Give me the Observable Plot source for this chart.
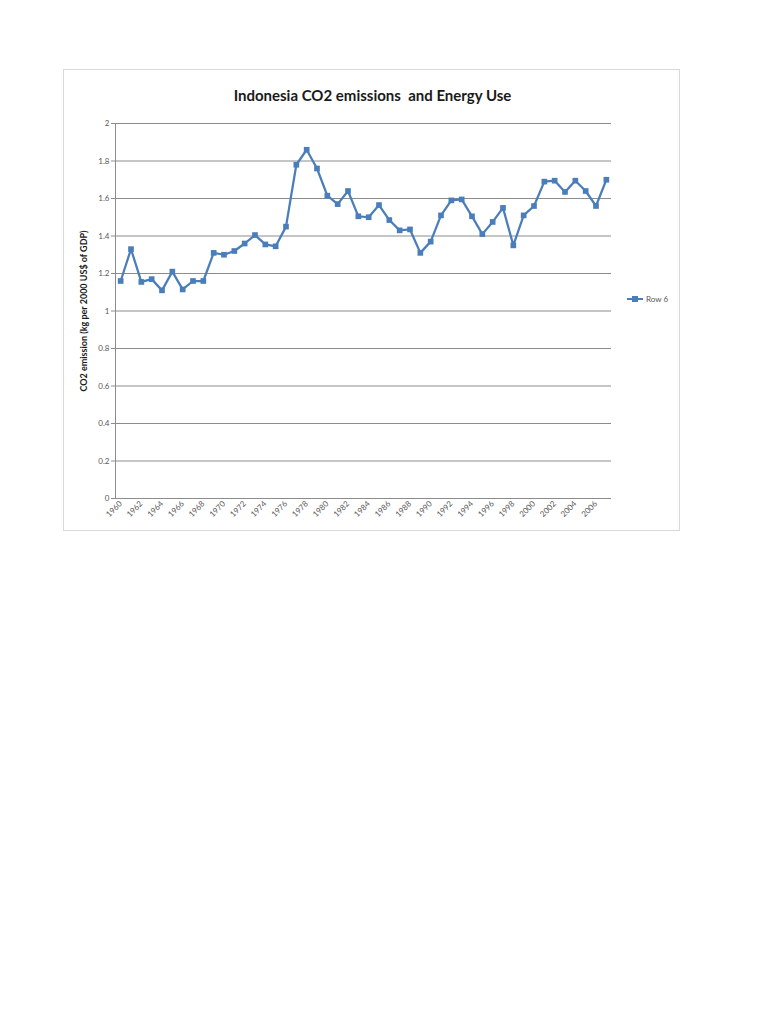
<!DOCTYPE html>
<html>
<head>
<meta charset="utf-8">
<script src="https://cdn.jsdelivr.net/npm/d3@7"></script>
<script src="https://cdn.jsdelivr.net/npm/@observablehq/plot@0.6"></script>
<style>
  body { margin: 0; background: #fff; font-family: Lato, "Open Sans", sans-serif; }
  #frame { position: absolute; left: 63px; top: 69px; width: 615px; height: 460px; border: 1px solid #d9d9d9; background: #fff; }
  #title { position: absolute; left: 0; width: 617px; top: 16px; text-align: center; font-size: 15px; font-weight: bold; color: #1a1a1a; }
  #chart { position: absolute; left: 0; top: 0; width: 617px; }
  #legend { position: absolute; left: 563px; top: 224px; font-size: 8px; color: #595959; display: flex; align-items: center; }
  #ylabel { position: absolute; left: 19px; top: 241px; transform: translate(-50%, -50%) rotate(-90deg); white-space: nowrap; font-size: 9px; font-weight: bold; color: #1a1a1a; }
</style>
</head>
<body>
<div id="frame">
  <div id="title">Indonesia CO2 emissions&nbsp; and Energy Use</div>
  <div id="chart"></div>
  <div id="ylabel">CO2 emission (kg per 2000 US$ of GDP)</div>
  <div id="legend"><svg width="16" height="8"><line x1="0" y1="4" x2="16" y2="4" stroke="#4a7ebb" stroke-width="2"/><rect x="5" y="1" width="6" height="6" fill="#4a7ebb"/></svg><span style="margin-left:3px">Row 6</span></div>
</div>
<script>
const years = d3.range(1960, 2008);
const values = [
  1.16, 1.33, 1.155, 1.17, 1.11, 1.21, 1.115, 1.16, 1.16, 1.31,
  1.30, 1.32, 1.36, 1.405, 1.355, 1.345, 1.45, 1.78, 1.86, 1.76,
  1.615, 1.57, 1.64, 1.505, 1.50, 1.565, 1.485, 1.43, 1.435, 1.31,
  1.37, 1.51, 1.59, 1.595, 1.505, 1.41, 1.475, 1.55, 1.35, 1.51,
  1.56, 1.69, 1.695, 1.635, 1.695, 1.64, 1.56, 1.70
];
const yTicks = [0, 0.2, 0.4, 0.6, 0.8, 1, 1.2, 1.4, 1.6, 1.8, 2];
const xTicks = years.filter(y => y % 2 === 0 && y <= 2006);
const data = years.map((year, i) => ({year, value: values[i]}));

const chart = Plot.plot({
  width: 617,
  height: 462,
  marginLeft: 51,
  marginRight: 70,
  marginTop: 53,
  marginBottom: 34,
  style: {fontFamily: "Lato, 'Open Sans', sans-serif", fontSize: "8px", color: "#595959", background: "transparent", maxWidth: "none"},
  x: {type: "point", domain: years, padding: 0.5, round: false},
  y: {domain: [0, 2]},
  marks: [
    Plot.gridY(yTicks, {stroke: "#8c8c8c", strokeOpacity: 1, strokeWidth: 1}),
    Plot.frame({anchor: "left", stroke: "#8c8c8c"}),
    Plot.axisY(yTicks, {tickSize: 4, tickPadding: 2, stroke: "#8c8c8c", tickFormat: d => String(d), label: null, fill: "#595959"}),
    Plot.axisX(xTicks, {tickSize: 0, tickRotate: -45, tickPadding: 4, label: null, tickFormat: d => String(d), fill: "#595959"}),
    Plot.ruleY([0], {stroke: "#8c8c8c"}),
    Plot.line(data, {x: "year", y: "value", stroke: "#4a7ebb", strokeWidth: 2.25}),
    Plot.dot(data, {x: "year", y: "value", symbol: "square", r: 3.2, fill: "#4a7ebb", stroke: "none"})
  ]
});
document.getElementById("chart").appendChild(chart);
</script>
</body>
</html>
